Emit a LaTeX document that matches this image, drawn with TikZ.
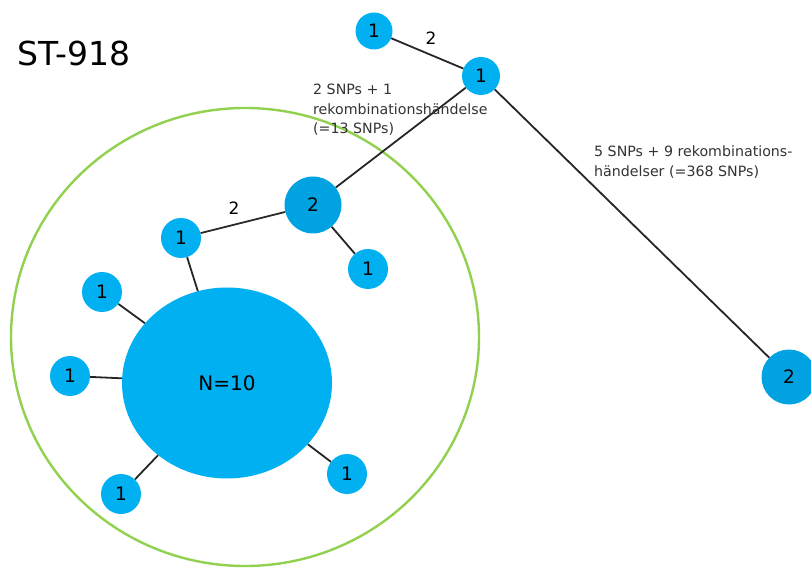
\documentclass[tikz,border=0pt]{standalone}
\usepackage{fontspec}
\setmainfont{DejaVu Sans}
\usetikzlibrary{shapes.geometric}
\definecolor{lblue}{HTML}{00B0F0}
\definecolor{dblue}{HTML}{00A2E2}
\definecolor{lgreen}{HTML}{92D050}
\definecolor{edgec}{HTML}{262626}
\begin{document}
\begin{tikzpicture}[x=1pt,y=-1pt,
  hap/.style={circle,fill=lblue,inner sep=0pt,minimum size=40pt,font=\fontsize{18.5}{18.5}\selectfont},
  haptwo/.style={circle,fill=dblue,inner sep=0pt,font=\fontsize{18.5}{18.5}\selectfont},
  link/.style={draw=edgec,line width=1.8pt},
  note/.style={font=\fontsize{14.2}{19.5}\selectfont,text=black!80,align=left,inner sep=0pt},
  elabel/.style={font=\fontsize{17}{17}\selectfont,inner sep=0pt}]
\useasboundingbox (0,0) rectangle (811,569);
\draw[lgreen,line width=2.4pt] (245,337) ellipse [x radius=234, y radius=229];
% nodes
\node[hap,minimum size=37pt] (t1) at (374,31) {1};
\node[hap,minimum size=38pt] (t2) at (481,76) {1};
\node[haptwo,minimum size=55pt] (r2) at (789,377) {2};
\node[haptwo,minimum size=57pt] (m2) at (313,205) {2};
\node[hap] (a1) at (181,238) {1};
\node[hap] (b1) at (368,269) {1};
\node[ellipse,fill=lblue,inner sep=0pt,minimum width=210pt,minimum height=191pt,font=\fontsize{20}{20}\selectfont] (big) at (227,383) {N=10};
\node[hap] (c1) at (102,292) {1};
\node[hap] (d1) at (70,376) {1};
\node[hap] (e1) at (121,494) {1};
\node[hap] (f1) at (347,474) {1};
% edges
\draw[link] (t1) -- (t2);
\draw[link] (t2) -- (m2);
\draw[link] (t2) -- (r2);
\draw[link] (m2) -- (a1);
\draw[link] (m2) -- (b1);
\draw[link] (a1) -- (big);
\draw[link] (c1) -- (big);
\draw[link] (d1) -- (big);
\draw[link] (e1) -- (big);
\draw[link] (f1) -- (big);
% labels
\node[font=\fontsize{33}{33}\selectfont,anchor=west,inner sep=0pt] (title) at (17,53) {ST-918};
\node[elabel] (l1) at (431,38) {2};
\node[elabel] (l2) at (234,208) {2};
\node[note,anchor=north west] (n1) at (313,84) {2 SNPs + 1\\rekombinationshändelse\\(=13 SNPs)};
\node[note,anchor=north west] (n2) at (594,146) {5 SNPs + 9 rekombinations-\\händelser (=368 SNPs)};
\end{tikzpicture}
\end{document}
